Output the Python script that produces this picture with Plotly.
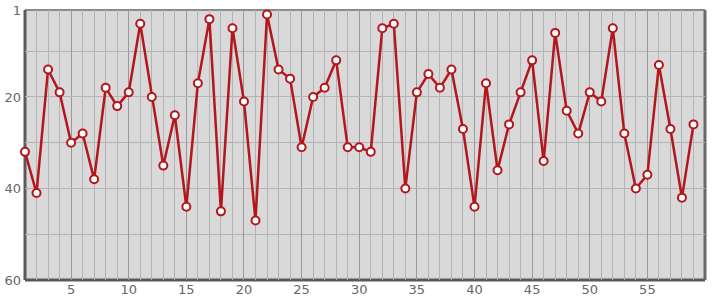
import plotly.graph_objects as go

x_values = list(range(1, 60))
y_values = [32, 41, 14, 19, 30, 28, 38, 18, 22, 19,
            4, 20, 35, 24, 44, 17, 3, 45, 5, 21,
            47, 2, 14, 16, 31, 20, 18, 12, 31, 31,
            32, 5, 4, 40, 19, 15, 18, 14, 27, 44,
            17, 36, 26, 19, 12, 34, 6, 23, 28, 19,
            21, 5, 28, 40, 37, 13, 27, 42, 26]
x_ticks = [5, 10, 15, 20, 25, 30, 35, 40, 45, 50, 55]
y_ticks = [1, 20, 40, 60]
y_minor = [10, 30, 50]

fig = go.Figure()
fig.add_trace(go.Scatter(
    x=x_values, y=y_values, mode="lines+markers",
    line=dict(color="#b3161c", width=2.5),
    marker=dict(size=8, color="white", line=dict(color="#b3161c", width=2)),
    hoverinfo="x+y", cliponaxis=False,
))

fig.update_layout(
    width=715, height=300,
    margin=dict(l=25, r=10, t=10, b=20),
    paper_bgcolor="white",
    plot_bgcolor="#d9d9d9",
    showlegend=False,
    font=dict(family="DejaVu Sans", size=13, color="#666666"),
    xaxis=dict(
        range=[1, 60], tickvals=x_ticks, ticks="", ticklen=0, showgrid=True,
        gridcolor="#999999", gridwidth=1, zeroline=False,
        minor=dict(dtick=1, tick0=0, showgrid=True, gridcolor="#b4b4b4", gridwidth=1),
        showline=False,
        ticklabelstandoff=0, automargin=False,
    ),
    yaxis=dict(
        range=[60, 1], tickvals=y_ticks, ticks="", ticklen=0, showgrid=True,
        gridcolor="#b4b4b4", gridwidth=1, zeroline=False,
        minor=dict(tickvals=y_minor, showgrid=True, gridcolor="#b4b4b4", gridwidth=1),
        showline=False,
        ticklabelstandoff=3, automargin=False,
    ),
    shapes=[
        dict(type="line", xref="paper", yref="paper", x0=0, x1=1, y0=1, y1=1,
             line=dict(color="#8a8a8a", width=2), layer="below"),
        dict(type="line", xref="paper", yref="paper", x0=1, x1=1, y0=0, y1=1,
             line=dict(color="#6a6a6a", width=3), layer="below"),
        dict(type="line", xref="paper", yref="paper", x0=0, x1=0, y0=0, y1=1,
             line=dict(color="#5a5a5a", width=3), layer="below"),
        dict(type="line", xref="paper", yref="paper", x0=0, x1=1, y0=0, y1=0,
             line=dict(color="#5a5a5a", width=3), layer="below"),
    ],
)

fig.write_html("out.html")
